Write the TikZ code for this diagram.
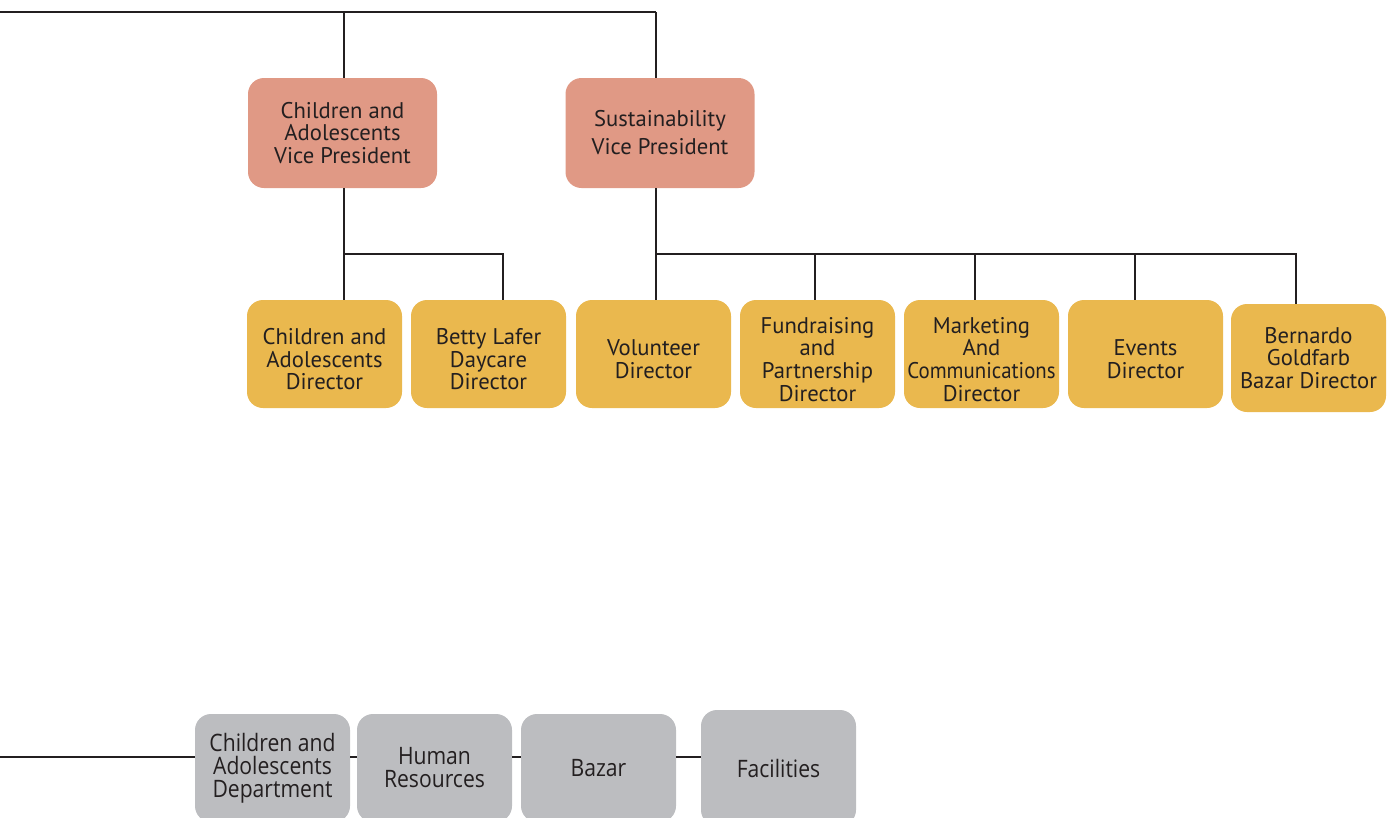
\documentclass[tikz,border=0pt]{standalone}
\usepackage{fontspec}
\setmainfont{PT Sans}
\newfontfamily\narrowfont[FakeStretch=0.92]{PT Sans}
\newfontfamily\condfont[FakeStretch=0.88]{Open Sans}
\definecolor{vpcol}{HTML}{E09985}
\definecolor{dircol}{HTML}{EAB84E}
\definecolor{depcol}{HTML}{BCBDC0}
\definecolor{ink}{HTML}{231F20}
\newcommand{\lowertext}{\rule{0pt}{20pt}}
\begin{document}
\begin{tikzpicture}[x=0.75pt,y=-0.75pt,
  conn/.style={draw=ink,line width=1.4pt},
  bus/.style={draw=ink,line width=2pt},
  boxbase/.style={rectangle,rounded corners=12pt,align=center,text=ink,inner sep=0pt},
  vpbox/.style={boxbase,fill=vpcol,minimum width=141.75pt,minimum height=82.5pt,font=\fontsize{17}{17}\selectfont},
  dirbox/.style={boxbase,fill=dircol,minimum width=116.25pt,minimum height=81pt,font=\fontsize{17}{17}\selectfont},
  depbox/.style={boxbase,fill=depcol,minimum width=116.25pt,minimum height=81pt,font=\condfont\fontsize{18}{17.25}\selectfont}]
\useasboundingbox (0,0) rectangle (1390,818);
\clip (0,0) rectangle (1390,818);
% VPs
\node[vpbox] (vp1) at (342.5,133) {Children and\\Adolescents\\Vice President};
\node[vpbox] (vp2) at (660,133) {Sustainability\\[4pt]Vice President};
% directors
\node[dirbox] (d1) at (324.5,354) {\lowertext Children and\\Adolescents\\Director};
\node[dirbox] (d2) at (488.5,354) {\lowertext Betty Lafer\\Daycare\\Director};
\node[dirbox] (d3) at (653.5,354) {\lowertext Volunteer\\Director};
\node[dirbox] (d4) at (817.5,354) {\lowertext Fundraising\\and\\Partnership\\Director};
\node[dirbox] (d5) at (981.5,354) {\lowertext Marketing\\And\\{\narrowfont Communications}\\Director};
\node[dirbox] (d6) at (1145.5,354) {\lowertext Events\\Director};
\node[dirbox] (d7) at (1308.5,358) {Bernardo\\Goldfarb\\Bazar Director};
% departments
\node[depbox] (g1) at (272.5,768) {Children and\\Adolescents\\Department};
\node[depbox] (g2) at (434.5,768) {Human\\Resources};
\node[depbox] (g3) at (598.5,768) {Bazar};
\node[depbox,minimum height=87pt] (g4) at (778.5,768) {Facilities};
% top bus
\coordinate (top) at (0,12);
\coordinate (v1) at (344,12);
\coordinate (v2) at (656,12);
\draw[bus] (top) -- (v2);
\draw[conn] (v2) -- (v2 |- vp2.north);
\draw[bus] (v1) -- (v1 |- vp1.north);
% VP1 branch
\coordinate (j1) at (344,254);
\coordinate (j2) at (503,254);
\draw[conn] (vp1.south -| j1) -- (j1 |- d1.north);
\draw[conn] (j1) -- (j2) -- (j2 |- d2.north);
% VP2 branch
\coordinate (k3) at (656,254);
\coordinate (k4) at (815,254);
\coordinate (k5) at (975,254);
\coordinate (k6) at (1135,254);
\coordinate (k7) at (1296,254);
\draw[conn] (vp2.south -| k3) -- (k3 |- d3.north);
\draw[conn] (k3) -- (k7) -- (k7 |- d7.north);
\draw[conn] (k4) -- (k4 |- d4.north);
\draw[conn] (k5) -- (k5 |- d5.north);
\draw[conn] (k6) -- (k6 |- d6.north);
% bottom line
\coordinate (bl) at (0,757);
\draw[bus] (bl) -- (bl -| g1.west);
\draw[bus] (g1.east |- bl) -- (g2.west |- bl);
\draw[bus] (g2.east |- bl) -- (g3.west |- bl);
\draw[bus] (g3.east |- bl) -- (g4.west |- bl);
\end{tikzpicture}
\end{document}
